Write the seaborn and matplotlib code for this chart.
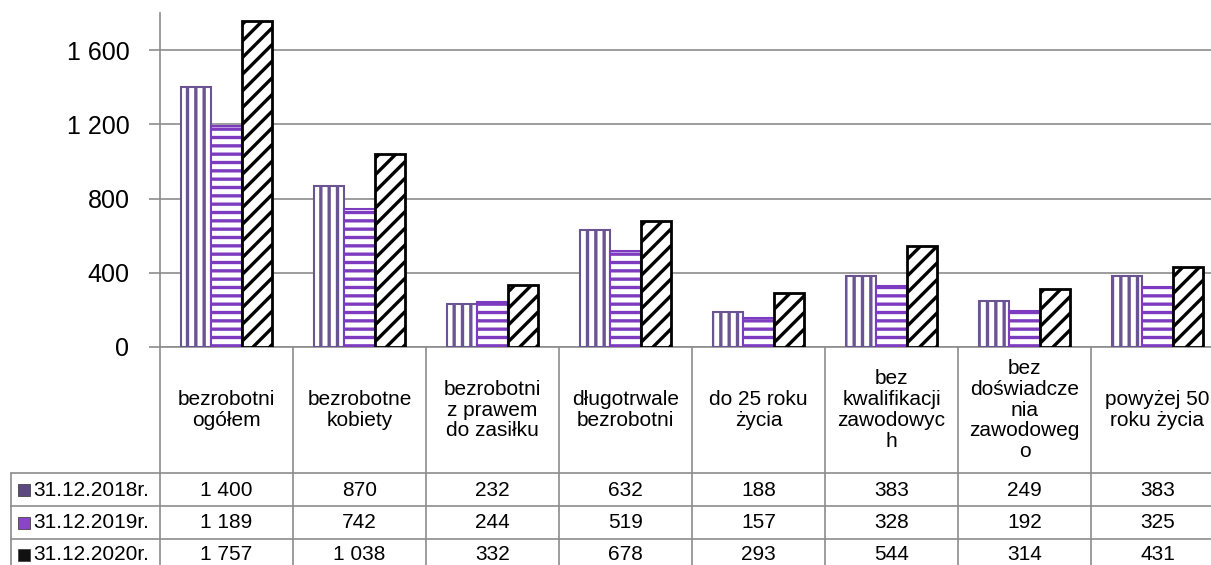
import numpy as np
import pandas as pd
import matplotlib
matplotlib.use("Agg")
import matplotlib.pyplot as plt
from matplotlib.patches import Rectangle
import seaborn as sns

# Data
categories = ["bezrobotni\nogółem", "bezrobotne\nkobiety", "bezrobotni\nz prawem\ndo zasiłku",
              "długotrwale\nbezrobotni", "do 25 roku\nżycia", "bez\nkwalifikacji\nzawodowyc\nh",
              "bez\ndoświadcze\nnia\nzawodoweg\no", "powyżej 50\nroku życia"]
series_names = ["31.12.2018r.", "31.12.2019r.", "31.12.2020r."]
values_2018 = [1400, 870, 232, 632, 188, 383, 249, 383]
values_2019 = [1189, 742, 244, 519, 157, 328, 192, 325]
values_2020 = [1757, 1038, 332, 678, 293, 544, 314, 431]
y_ticks = [0, 400, 800, 1200, 1600]

stripe_colors = ["#6a5592", "#7d3cc0", "#000000"]
hatches = ["||", "--", "//"]
grid_color = "#8c8c8c"


def fmt(v):
    return f"{v:,}".replace(",", " ")


def build_frame():
    rows = []
    for name, vals in zip(series_names, [values_2018, values_2019, values_2020]):
        for cat, v in zip(categories, vals):
            rows.append({"kategoria": cat, "rok": name, "liczba": v})
    return pd.DataFrame(rows)


def main():
    sns.set_style("white")
    plt.rcParams['font.family'] = ['Liberation Sans', 'DejaVu Sans']
    plt.rcParams['hatch.linewidth'] = 2.4
    plt.rcParams['text.color'] = 'black'
    plt.rcParams['ytick.labelcolor'] = 'black'

    W, H = 1211, 565
    fig = plt.figure(figsize=(W / 100, H / 100), dpi=100)
    left, right, top, base = 160, 1224, 13, 347
    ax = fig.add_axes([left / W, (H - base) / H, (right - left) / W, (base - top) / H])

    df = build_frame()
    sns.barplot(data=df, x="kategoria", y="liczba", hue="rok", width=0.68,
                palette=["white"] * 3, legend=False, ax=ax, zorder=3)

    for i, cont in enumerate(ax.containers):
        for bar in cont:
            bar.set_facecolor("white")
            bar.set_edgecolor(stripe_colors[i])
            bar.set_hatch(hatches[i])
            bar.set_linewidth(1.5 if i < 2 else 2.0)

    ax.set_xlim(-0.5, len(categories) - 0.5)
    ax.set_ylim(0, 1800)
    ax.set_yticks(y_ticks)
    ax.set_yticklabels([fmt(t) for t in y_ticks], fontsize=18, color="black")
    ax.yaxis.grid(True, color=grid_color, linewidth=1.2, zorder=0)
    ax.set_axisbelow(True)
    ax.tick_params(axis='y', length=8, width=1.2, color=grid_color, pad=14, left=True)
    ax.tick_params(axis='x', bottom=False, labelbottom=False)
    ax.set_xlabel("")
    ax.set_ylabel("")
    for s in ["top", "right"]:
        ax.spines[s].set_visible(False)
    for s in ["left", "bottom"]:
        ax.spines[s].set_color(grid_color)
        ax.spines[s].set_linewidth(1.2)

    # data table below the axis
    tr = ax.get_xaxis_transform()

    def ay(p):
        return (base - p) / (base - top)

    row_lines = [473, 506, 539]
    row_centers = [490, 523, 555]
    n = len(categories)
    for j in range(n + 1):
        ax.plot([j - 0.5, j - 0.5], [ay(base), ay(H + 5)], transform=tr, color=grid_color,
                lw=1.2, clip_on=False)
    x_tab_left = (11 - left) / (right - left) * n - 0.5
    for p in row_lines:
        ax.plot([x_tab_left, n - 0.5], [ay(p), ay(p)], transform=tr, color=grid_color,
                lw=1.2, clip_on=False)
    ax.plot([x_tab_left, x_tab_left], [ay(row_lines[0]), ay(H + 5)], transform=tr,
            color=grid_color, lw=1.2, clip_on=False)

    for j, cat in enumerate(categories):
        ax.text(j, ay(410), cat, transform=tr, ha="center", va="center", fontsize=15,
                linespacing=1.12, color="black", clip_on=False)

    all_vals = [values_2018, values_2019, values_2020]
    key_fill = ["#5b4a80", "#8a45c8", "#111111"]
    for r, (name, vals) in enumerate(zip(series_names, all_vals)):
        yc = ay(row_centers[r])
        for j, v in enumerate(vals):
            ax.text(j, yc, fmt(v), transform=tr, ha="center", va="center", fontsize=15,
                    color="black", clip_on=False)
        ax.text(33 / W, 1 - row_centers[r] / H, name, transform=fig.transFigure,
                ha="left", va="center", fontsize=15, color="black")
        fig.patches.append(Rectangle((18 / W, 1 - (row_centers[r] + 6) / H), 12 / W, 12 / H,
                                     transform=fig.transFigure, facecolor=key_fill[r],
                                     edgecolor="#444444", lw=0.6))

    fig.savefig("out.png", dpi=100)


if __name__ == '__main__':
    main()
